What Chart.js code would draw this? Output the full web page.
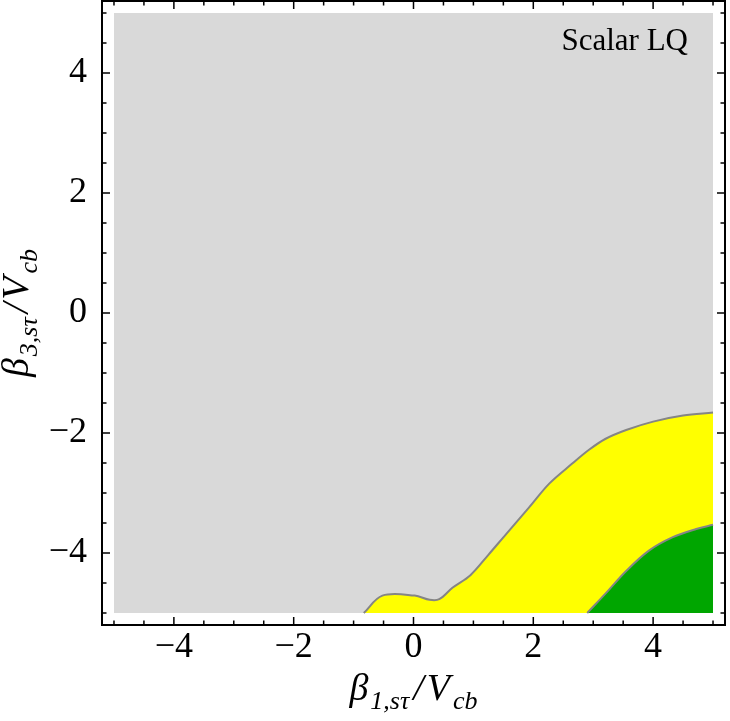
<!DOCTYPE html>
<html>
<head>
<meta charset="utf-8">
<script src="https://cdn.jsdelivr.net/npm/chart.js@4.4.0/dist/chart.umd.min.js"></script>
<style>
  html, body { margin: 0; padding: 0; background: #fff; }
  #wrap { width: 730px; height: 721px; position: relative; }
</style>
</head>
<body>
<div id="wrap"><canvas id="lqChart"></canvas></div>
<script>
// tick labels on both axes
const xTickValues = [-4, -2, 0, 2, 4];
const yTickValues = [-4, -2, 0, 2, 4];

// parameter region shown (gray background)
const regionX = [-5, 5];
const regionTop = [5, 5];
const regionBottom = -5;

// outer allowed region (yellow), upper boundary
const yellowX = [-0.83, -0.52, 0.02, 0.27, 0.43, 0.65, 0.95, 1.25, 1.55, 1.93, 2.27, 2.65, 2.93, 3.2, 3.55, 4.0, 4.5, 5.0];
const yellowY = [-5.0, -4.71, -4.71, -4.78, -4.77, -4.58, -4.37, -4.03, -3.68, -3.24, -2.84, -2.51, -2.28, -2.10, -1.95, -1.81, -1.71, -1.66];

// inner allowed region (green), upper boundary
const greenX = [2.9, 3.22, 3.55, 3.93, 4.32, 4.72, 5.0];
const greenY = [-5.0, -4.66, -4.30, -3.96, -3.74, -3.60, -3.53];

const toPoints = function (xs, ys) {
    let pts = [];
    for (var i = 0; i < xs.length; i++) {
        pts.push({x: xs[i], y: ys[i]});
    }
    return pts;
};

const minusLabel = function (v) {
    return v < 0 ? '\u2212' + Math.abs(v) : String(v);
};

// draws an expression like beta_{1,s tau}/V_{cb}, centered on (0,0) baseline
const drawMath = function (ctx, parts) {
    const mainFont = 'italic 38px "Liberation Serif"';
    const subFont = 'italic 26px "Liberation Serif"';
    let total = 0;
    parts.forEach(p => {
        ctx.font = p.sub ? subFont : mainFont;
        total += ctx.measureText(p.t).width + (p.gap || 0);
    });
    let x = -total / 2;
    parts.forEach(p => {
        ctx.font = p.sub ? subFont : mainFont;
        ctx.fillText(p.t, x, p.sub ? 9 : 0);
        x += ctx.measureText(p.t).width + (p.gap || 0);
    });
};

// frame, inward ticks, labels
const framePlugin = {
    id: 'frame',
    afterDraw(chart) {
        const ctx = chart.ctx;
        const area = chart.chartArea;
        const xs = chart.scales.x, ys = chart.scales.y;
        ctx.save();
        ctx.strokeStyle = '#000';
        ctx.lineWidth = 2;
        ctx.strokeRect(area.left, area.top, area.right - area.left, area.bottom - area.top);

        ctx.lineWidth = 1.5;
        for (let v = -5; v <= 5.001; v += 0.5) {
            const major = xTickValues.includes(v);
            const len = major ? 8 : 4.5;
            const px = xs.getPixelForValue(v);
            const py = ys.getPixelForValue(v);
            ctx.beginPath();
            ctx.moveTo(px, area.bottom); ctx.lineTo(px, area.bottom - len);
            ctx.moveTo(px, area.top); ctx.lineTo(px, area.top + len);
            ctx.moveTo(area.left, py); ctx.lineTo(area.left + len, py);
            ctx.moveTo(area.right, py); ctx.lineTo(area.right - len, py);
            ctx.stroke();
        }

        ctx.fillStyle = '#000';
        ctx.textBaseline = 'alphabetic';
        ctx.font = '31px "Liberation Serif"';
        ctx.textAlign = 'right';
        ctx.fillText('Scalar LQ', 688, 50);
        ctx.textAlign = 'left';

        ctx.save();
        ctx.translate(xs.getPixelForValue(0), 700);
        drawMath(ctx, [{t: '\u03b2', gap: 2}, {t: '1,s\u03c4', sub: true, gap: 4}, {t: '/', gap: 3}, {t: 'V', gap: 3}, {t: 'cb', sub: true}]);
        ctx.restore();

        ctx.save();
        ctx.translate(28, ys.getPixelForValue(0));
        ctx.rotate(-Math.PI / 2);
        drawMath(ctx, [{t: '\u03b2', gap: 2}, {t: '3,s\u03c4', sub: true, gap: 4}, {t: '/', gap: 3}, {t: 'V', gap: 3}, {t: 'cb', sub: true}]);
        ctx.restore();
        ctx.restore();
    }
};

const tickFont = {family: '"Liberation Serif"', size: 36};

const lqChart = new Chart(document.getElementById('lqChart'), {
    type: 'scatter',
    data: {
        datasets: [{
            label: 'inner',
            data: toPoints(greenX, greenY),
            showLine: true,
            fill: {value: regionBottom},
            backgroundColor: '#00a600',
            borderColor: '#858585',
            borderWidth: 2,
            pointRadius: 0,
            tension: 0.35
        }, {
            label: 'outer',
            data: toPoints(yellowX, yellowY),
            showLine: true,
            fill: {value: regionBottom},
            backgroundColor: '#ffff00',
            borderColor: '#858585',
            borderWidth: 2,
            pointRadius: 0,
            tension: 0.35
        }, {
            label: 'region',
            data: toPoints(regionX, regionTop),
            showLine: true,
            fill: {value: regionBottom},
            backgroundColor: '#d9d9d9',
            borderWidth: 0,
            pointRadius: 0
        }]
    },
    options: {
        responsive: true,
        maintainAspectRatio: false,
        animation: false,
        layout: {
            padding: {top: 1, right: 5, left: 0, bottom: 0}
        },
        scales: {
            x: {
                type: 'linear',
                position: 'bottom',
                min: -5.2,
                max: 5.2,
                grid: {display: false},
                border: {display: false},
                afterBuildTicks: function (scale) {
                    scale.ticks = xTickValues.map(v => ({value: v}));
                },
                afterFit: function (scale) {
                    scale.height = 96;
                    scale.paddingLeft = 0;
                    scale.paddingRight = 0;
                },
                ticks: {
                    font: tickFont,
                    color: '#000',
                    padding: -7,
                    maxRotation: 0,
                    callback: minusLabel
                }
            },
            y: {
                type: 'linear',
                position: 'left',
                min: -5.2,
                max: 5.2,
                grid: {display: false},
                border: {display: false},
                afterBuildTicks: function (scale) {
                    scale.ticks = yTickValues.map(v => ({value: v}));
                },
                afterFit: function (scale) {
                    scale.width = 102;
                    scale.paddingTop = 0;
                    scale.paddingBottom = 0;
                },
                ticks: {
                    font: tickFont,
                    color: '#000',
                    padding: 7,
                    callback: minusLabel
                }
            }
        },
        plugins: {
            legend: {display: false},
            tooltip: {enabled: false}
        }
    },
    plugins: [framePlugin]
});
</script>
</body>
</html>
